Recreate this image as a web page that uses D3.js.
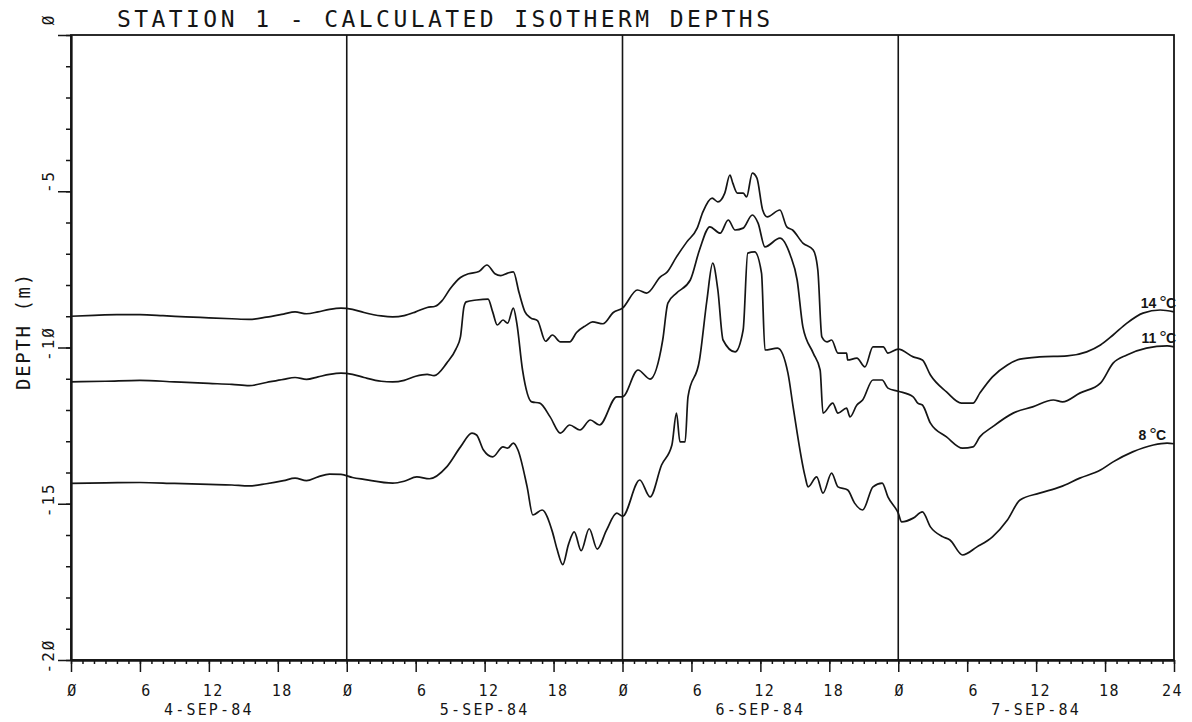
<!DOCTYPE html>
<html>
<head>
<meta charset="utf-8">
<script src="https://cdn.jsdelivr.net/npm/d3@7"></script>
<style>
  body { margin: 0; background: #fff; }
  svg { display: block; }
  text { font-family: "DejaVu Sans Mono", monospace; fill: #151515; }
</style>
</head>
<body>
<svg id="chart" width="1192" height="722"></svg>
<script>
// Hours since 00:00 on 4-SEP-84 and isotherm depth (m, negative downward)
const t14 = [0,2,4,6,8,10,12,14,15.5,17,18.5,19.5,20.5,21.5,22.5,23.5,24.5,
  25.5,27,28,29,30,31,31.7,32.3,33,33.9,34.6,35.5,36.2,36.9,37.4,38,38.5,39,39.5,40,40.6,41.3,41.9,42.6,43.4,44,44.8,45.4,46.3,47.2,48,
  49.3,50.1,51.3,51.9,52.7,53.6,54.5,55,55.8,56.3,56.9,57.35,57.6,58,58.5,58.8,59.3,59.7,60.2,60.6,61.7,62.3,62.8,63.7,64.6,65,65.35,65.8,66.2,66.75,67.5,67.6,68.4,69.1,69.8,70.7,71.1,72,
  73.3,74.1,74.8,76.2,77.5,78.5,79.1,80.2,81.5,82.6,84.3,86.7,88.4,89.6,90.7,91.9,93.3,94.8,96];
const d14 = [-9.00,-8.97,-8.95,-8.95,-8.98,-9.02,-9.05,-9.08,-9.10,-9.03,-8.93,-8.86,-8.92,-8.86,-8.78,-8.74,-8.78,
  -8.88,-8.99,-9.02,-8.98,-8.86,-8.72,-8.68,-8.50,-8.12,-7.76,-7.64,-7.57,-7.36,-7.64,-7.70,-7.62,-7.58,-8.25,-8.85,-9.05,-9.14,-9.80,-9.60,-9.82,-9.82,-9.52,-9.30,-9.18,-9.24,-8.88,-8.74,
  -8.16,-8.26,-7.74,-7.58,-7.10,-6.62,-6.18,-5.66,-5.22,-5.34,-5.06,-4.48,-4.74,-5.06,-5.06,-5.18,-4.42,-4.58,-5.60,-5.82,-5.60,-6.14,-6.24,-6.66,-6.88,-7.52,-9.66,-9.82,-9.76,-10.18,-10.18,-10.40,-10.34,-10.62,-9.98,-9.98,-10.18,-10.05,
  -10.30,-10.40,-10.88,-11.42,-11.78,-11.78,-11.46,-10.94,-10.56,-10.37,-10.30,-10.27,-10.14,-9.92,-9.60,-9.22,-8.90,-8.80,-8.86];

const t11 = [0,3,6,9,12,14,15.5,17,18.5,19.5,20.5,21.5,22.5,23.5,24.5,
  25.5,27,28,29,30,31,31.6,32.7,33.5,33.9,34.2,34.4,35.3,36.3,36.7,37.1,37.6,38,38.5,38.8,39.3,40.1,40.8,41.7,42.6,43.4,44.3,45.2,46,47.5,48,
  49.35,50.4,51.5,51.95,52.7,53.9,54.7,55.6,56.5,57.2,57.8,58.5,59.3,59.8,60.4,61.7,62.6,63.2,63.7,64.6,65.2,65.45,66.3,66.75,67.5,67.8,68.4,68.9,69.8,70.6,71.1,72,
  73.3,73.7,74.1,74.8,76.2,77.6,78.5,79.1,80.2,82,83.7,85.5,86.3,87.8,89.6,90.7,91.9,93.6,95.4,96];
const d11 = [-11.10,-11.08,-11.05,-11.10,-11.15,-11.18,-11.22,-11.12,-11.02,-10.96,-11.02,-10.94,-10.86,-10.82,-10.86,
  -10.96,-11.08,-11.10,-11.05,-10.92,-10.86,-10.90,-10.50,-10.05,-9.65,-8.70,-8.54,-8.48,-8.45,-8.86,-9.28,-9.12,-9.22,-8.74,-9.22,-10.72,-11.74,-11.78,-12.22,-12.74,-12.48,-12.64,-12.32,-12.48,-11.58,-11.58,
  -10.72,-11.01,-9.76,-8.58,-8.26,-7.84,-6.88,-6.14,-6.34,-5.92,-6.24,-6.18,-5.76,-6.02,-6.78,-6.50,-7.04,-7.84,-9.34,-10.18,-10.72,-12.10,-11.78,-12.10,-11.94,-12.22,-11.84,-11.68,-11.04,-11.04,-11.30,-11.40,
  -11.58,-11.78,-11.84,-12.42,-12.86,-13.22,-13.18,-12.86,-12.54,-12.10,-11.90,-11.68,-11.74,-11.46,-11.14,-10.50,-10.24,-10.02,-9.95,-9.98];

const t8 = [0,3,6,9,12,14,15.5,17,18.5,19.5,20.5,21.5,22.5,23.5,24.5,
  25.5,28,29,30.1,31.2,32.7,33.9,34.9,35.3,35.9,36.7,37.6,38,38.5,38.9,39.7,40.2,41,41.9,42.3,42.8,43.3,43.8,44.4,45.1,45.8,46.6,47.5,48,
  49.5,50.4,51.4,52.3,52.7,53,53.45,53.7,54.7,55.35,55.85,56.3,56.75,57.8,58.5,58.9,59.5,60.1,60.4,61.5,62.4,62.85,63.9,64.15,64.9,65.45,66.2,66.75,67.6,68.2,68.9,69.8,70.6,71.1,72,
  72.3,73.3,74.1,74.8,75.9,76.5,77.6,78.85,80.2,81.5,82.6,84.3,86.1,87.8,89.6,90.7,92.4,94.2,95.4,96];
const d8 = [-14.35,-14.33,-14.32,-14.35,-14.38,-14.40,-14.43,-14.36,-14.26,-14.18,-14.26,-14.14,-14.05,-14.06,-14.16,
  -14.22,-14.34,-14.28,-14.14,-14.20,-13.82,-13.18,-12.74,-12.80,-13.28,-13.50,-13.18,-13.22,-13.06,-13.28,-14.46,-15.36,-15.20,-15.90,-16.45,-16.95,-16.30,-15.90,-16.50,-15.80,-16.45,-15.85,-15.30,-15.40,
  -14.24,-14.78,-13.76,-13.12,-12.10,-13.02,-13.02,-11.58,-10.40,-8.48,-7.30,-8.16,-9.76,-10.14,-9.44,-6.98,-6.94,-7.62,-10.08,-10.02,-10.82,-11.90,-14.14,-14.46,-14.14,-14.66,-14.02,-14.46,-14.56,-14.98,-15.20,-14.46,-14.34,-14.78,-15.30,
  -15.58,-15.46,-15.26,-15.74,-16.06,-16.16,-16.64,-16.38,-16.06,-15.52,-14.88,-14.66,-14.46,-14.18,-13.92,-13.66,-13.34,-13.12,-13.06,-13.08];

const isothermNames = ["14", "11", "8"];
const dayLabels = ["4-SEP-84", "5-SEP-84", "6-SEP-84", "7-SEP-84"];
const dayStarts = [24, 48, 72];
const hourMajor = d3.range(0, 97, 6);
const hourMinor = d3.range(0, 97, 1);
const depthMajor = [0, -5, -10, -15, -20];
const depthMinor = d3.range(0, -21, -1);
const title = "STATION 1 - CALCULATED ISOTHERM DEPTHS";
const yTitle = "DEPTH (m)";

// plotter-style slashed zero
const slashZero = s => String(s).replace(/0/g, "\u00D8");

const svg = d3.select("#chart");
const ink = "#151515";

const x = d3.scaleLinear().domain([0, 96]).range([71, 1174]);
const y = d3.scaleLinear().domain([0, -20]).range([35, 660]);

// frame
svg.append("rect")
  .attr("x", x(0)).attr("y", y(0))
  .attr("width", x(96) - x(0)).attr("height", y(-20) - y(0))
  .attr("fill", "none").attr("stroke", ink).attr("stroke-width", 1.8);

// day separators
svg.append("g").selectAll("line").data(dayStarts).join("line")
  .attr("x1", d => x(d)).attr("x2", d => x(d))
  .attr("y1", y(0)).attr("y2", y(-20))
  .attr("stroke", ink).attr("stroke-width", 1.6);

// x axis: hourly minor ticks, 6-hourly major ticks with labels
const xMinor = svg.append("g").attr("transform", `translate(0,${y(-20)})`)
  .call(d3.axisBottom(x).tickValues(hourMinor).tickSize(4).tickSizeOuter(0).tickFormat(""));
const xMajor = svg.append("g").attr("transform", `translate(0,${y(-20)})`)
  .call(d3.axisBottom(x).tickValues(hourMajor).tickSize(12).tickSizeOuter(0)
    .tickFormat(h => slashZero(h === 96 ? 24 : h % 24)));
xMajor.selectAll("text")
  .attr("y", 36).attr("dy", 0)
  .attr("dx", h => { const v = h === 96 ? 24 : h % 24; return v === 0 ? 1 : v === 6 ? 6 : v === 24 ? -2 : 4; })
  .style("font-size", "15px").style("letter-spacing", "1.5px").attr("fill", ink);

// y axis: 1 m minor ticks, 5 m major ticks with rotated labels
const yMinor = svg.append("g").attr("transform", `translate(${x(0)},0)`)
  .call(d3.axisLeft(y).tickValues(depthMinor).tickSize(5).tickSizeOuter(0).tickFormat(""));
const yMajor = svg.append("g").attr("transform", `translate(${x(0)},0)`)
  .call(d3.axisLeft(y).tickValues(depthMajor).tickSize(13).tickSizeOuter(0).tickFormat(d => slashZero(d)));
yMajor.selectAll("text")
  .attr("x", 0).attr("y", 0).attr("dy", 0)
  .attr("text-anchor", "end")
  .attr("transform", "translate(-17,-22) rotate(-90)")
  .style("font-size", "16px").style("letter-spacing", "2px").attr("fill", ink);

[xMinor, xMajor, yMinor, yMajor].forEach(g => {
  g.select(".domain").attr("stroke", ink).attr("stroke-width", 1.8);
  g.selectAll(".tick line").attr("stroke", ink).attr("stroke-width", 1.5);
});

// date labels under each day
svg.append("g").selectAll("text").data(dayLabels).join("text")
  .attr("x", (d, i) => x(i * 24 + 12)).attr("y", 715)
  .attr("text-anchor", "middle")
  .style("font-size", "15px").style("letter-spacing", "2.2px")
  .text(d => d);

// title
svg.append("text")
  .attr("x", 117).attr("y", 27)
  .attr("textLength", 653).attr("lengthAdjust", "spacing")
  .style("font-size", "23px")
  .text(title);

// y axis title
svg.append("text")
  .attr("transform", `translate(30,${y(-9.5)}) rotate(-90)`)
  .attr("text-anchor", "middle")
  .attr("textLength", 116).attr("lengthAdjust", "spacing")
  .style("font-size", "19px")
  .text(yTitle);

// isotherm curves
const series = [
  { name: isothermNames[0], t: t14, d: d14, dx: 2 },
  { name: isothermNames[1], t: t11, d: d11, dx: 2 },
  { name: isothermNames[2], t: t8, d: d8, dx: -8 }
];
const line = d3.line()
  .x(p => x(p[0])).y(p => y(p[1]))
  .curve(d3.curveMonotoneX);

svg.append("g").selectAll("path").data(series).join("path")
  .attr("d", s => line(s.t.map((t, i) => [t, s.d[i]])))
  .attr("fill", "none").attr("stroke", ink)
  .attr("stroke-width", 1.7).attr("stroke-linejoin", "round");

// curve labels at the right end
const lab = svg.append("g").selectAll("text").data(series).join("text")
  .attr("x", s => x(96) + s.dx)
  .attr("y", s => y(s.d[s.d.length - 1]) - 4)
  .attr("text-anchor", "end")
  .style("font-family", "'Liberation Sans', Arial, sans-serif")
  .style("font-weight", "bold").style("font-size", "14px");
lab.append("tspan").text(s => s.name);
lab.append("tspan").attr("dx", 3).attr("dy", 1).style("font-size", "19px").style("font-weight", "normal").text("\u00B0");
lab.append("tspan").attr("dx", -1).attr("dy", -1).text("C");
</script>
</body>
</html>
